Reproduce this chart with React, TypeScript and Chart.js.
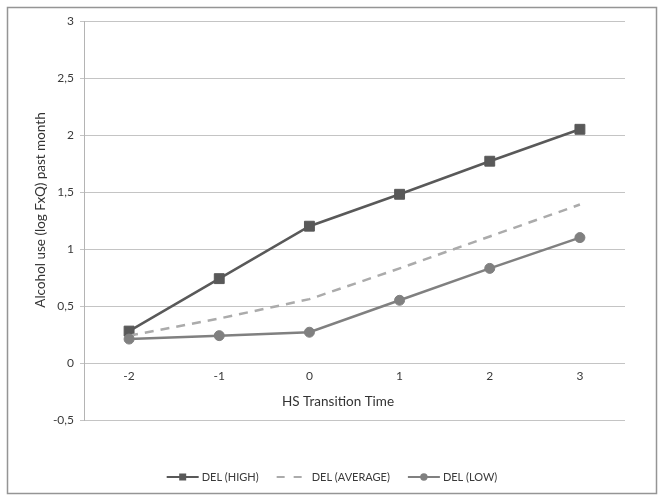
import React, { useEffect, useRef } from 'react';
import { Chart, registerables } from 'chart.js';

Chart.register(...registerables);

const categories = ['-2', '-1', '0', '1', '2', '3'];
const delHigh = [0.28, 0.74, 1.2, 1.48, 1.77, 2.05];
const delAverage = [0.24, 0.39, 0.56, 0.83, 1.11, 1.39];
const delLow = [0.21, 0.24, 0.27, 0.55, 0.83, 1.1];
const seriesNames = ['DEL (HIGH)', 'DEL (AVERAGE)', 'DEL (LOW)'];
const yTitle = 'Alcohol use (log FxQ) past month';
const xTitle = 'HS Transition Time';

const FONT = 'Lato, "Open Sans", sans-serif';

const frameTitlesLegend = {
  id: 'frameTitlesLegend',
  afterDraw(chart: any) {
    const ctx = chart.ctx as CanvasRenderingContext2D;
    ctx.save();
    // outer frame
    ctx.strokeStyle = '#959595';
    ctx.lineWidth = 1.5;
    ctx.strokeRect(7.5, 7.5, chart.width - 15, chart.height - 15);

    // axis titles
    ctx.fillStyle = '#333333';
    ctx.font = `13.5px ${FONT}`;
    ctx.textAlign = 'center';
    ctx.textBaseline = 'middle';
    ctx.fillText(xTitle, 338, 402);
    ctx.save();
    ctx.translate(41, 210);
    ctx.rotate(-Math.PI / 2);
    ctx.fillText(yTitle, 0, 0);
    ctx.restore();

    // legend
    ctx.font = `11px ${FONT}`;
    const sampleW = 32;
    const gapText = 3;
    const gapItem = 18;
    const ds = chart.data.datasets;
    const widths = ds.map((d: any) => ctx.measureText(d.label).width);
    const total =
      widths.reduce((s: number, w: number) => s + sampleW + gapText + w, 0) + gapItem * (ds.length - 1);
    let x = (chart.width - total) / 2;
    const y = 477;
    ds.forEach((d: any, i: number) => {
      ctx.strokeStyle = d.borderColor;
      ctx.lineWidth = 2;
      ctx.setLineDash(d.borderDash ? [8, 9] : []);
      ctx.beginPath();
      ctx.moveTo(x, y);
      ctx.lineTo(x + sampleW, y);
      ctx.stroke();
      ctx.setLineDash([]);
      ctx.fillStyle = d.borderColor;
      if (d.pointRadius > 0) {
        if (d.pointStyle === 'rect') {
          ctx.fillRect(x + sampleW / 2 - 3.5, y - 3.5, 7, 7);
        } else {
          ctx.beginPath();
          ctx.arc(x + sampleW / 2, y, 3.7, 0, Math.PI * 2);
          ctx.fill();
        }
      }
      ctx.fillStyle = '#3a3a3a';
      ctx.textBaseline = 'middle';
      ctx.textAlign = 'left';
      ctx.fillText(d.label, x + sampleW + gapText, y);
      x += sampleW + gapText + widths[i] + gapItem;
    });
    ctx.restore();
  },
};

export default function App() {
  const ref = useRef<HTMLCanvasElement | null>(null);

  useEffect(() => {
    document.body.style.margin = '0';
    const canvas = ref.current;
    if (!canvas) return;
    const chart = new Chart(canvas, {
      type: 'line',
      data: {
        labels: categories,
        datasets: [
          {
            label: seriesNames[0],
            data: delHigh,
            borderColor: '#595959',
            backgroundColor: '#595959',
            borderWidth: 2.5,
            pointStyle: 'rect',
            pointRadius: 7,
            pointBorderWidth: 1,
            pointBackgroundColor: '#595959',
            pointBorderColor: '#595959',
            tension: 0,
            fill: false,
            order: 2,
          },
          {
            label: seriesNames[1],
            data: delAverage,
            borderColor: '#ababab',
            backgroundColor: '#ababab',
            borderWidth: 2.5,
            borderDash: [9, 7],
            pointRadius: 0,
            tension: 0,
            fill: false,
            order: 1,
          },
          {
            label: seriesNames[2],
            data: delLow,
            borderColor: '#808080',
            backgroundColor: '#808080',
            borderWidth: 2.5,
            pointStyle: 'circle',
            pointRadius: 5,
            pointBorderWidth: 1,
            pointBackgroundColor: '#808080',
            pointBorderColor: '#808080',
            tension: 0,
            fill: false,
            order: 0,
          },
        ] as any,
      },
      options: {
        animation: false,
        responsive: true,
        maintainAspectRatio: false,
        layout: { padding: { left: 0, right: 39, top: 21, bottom: 81 } },
        plugins: {
          legend: { display: false },
          tooltip: { enabled: false },
        },
        scales: {
          x: {
            type: 'category',
            position: { y: 0 } as any,
            offset: true,
            grid: { display: false, drawTicks: false },
            border: { display: false },
            ticks: { color: '#3a3a3a', padding: 6, font: { family: FONT, size: 12 } },
            title: { display: false },
          },
          y: {
            type: 'linear',
            position: 'left',
            min: -0.5,
            max: 3,
            afterFit: (scale: any) => {
              scale.width = 84;
            },
            ticks: {
              stepSize: 0.5,
              color: '#3a3a3a',
              padding: 6,
              font: { family: FONT, size: 12 },
              callback: (v: any) => String(v).replace('.', ','),
            },
            grid: { color: '#c4c4c4', lineWidth: 1, tickLength: 4, drawTicks: true },
            border: { display: true, color: '#b4b4b4', width: 1 },
            title: { display: false },
          },
        },
      },
      plugins: [frameTitlesLegend],
    });
    return () => chart.destroy();
  }, []);

  return (
    <div style={{ position: 'absolute', left: 0, top: 0, width: 664, height: 501, background: '#fff' }}>
      <canvas ref={ref} />
    </div>
  );
}
